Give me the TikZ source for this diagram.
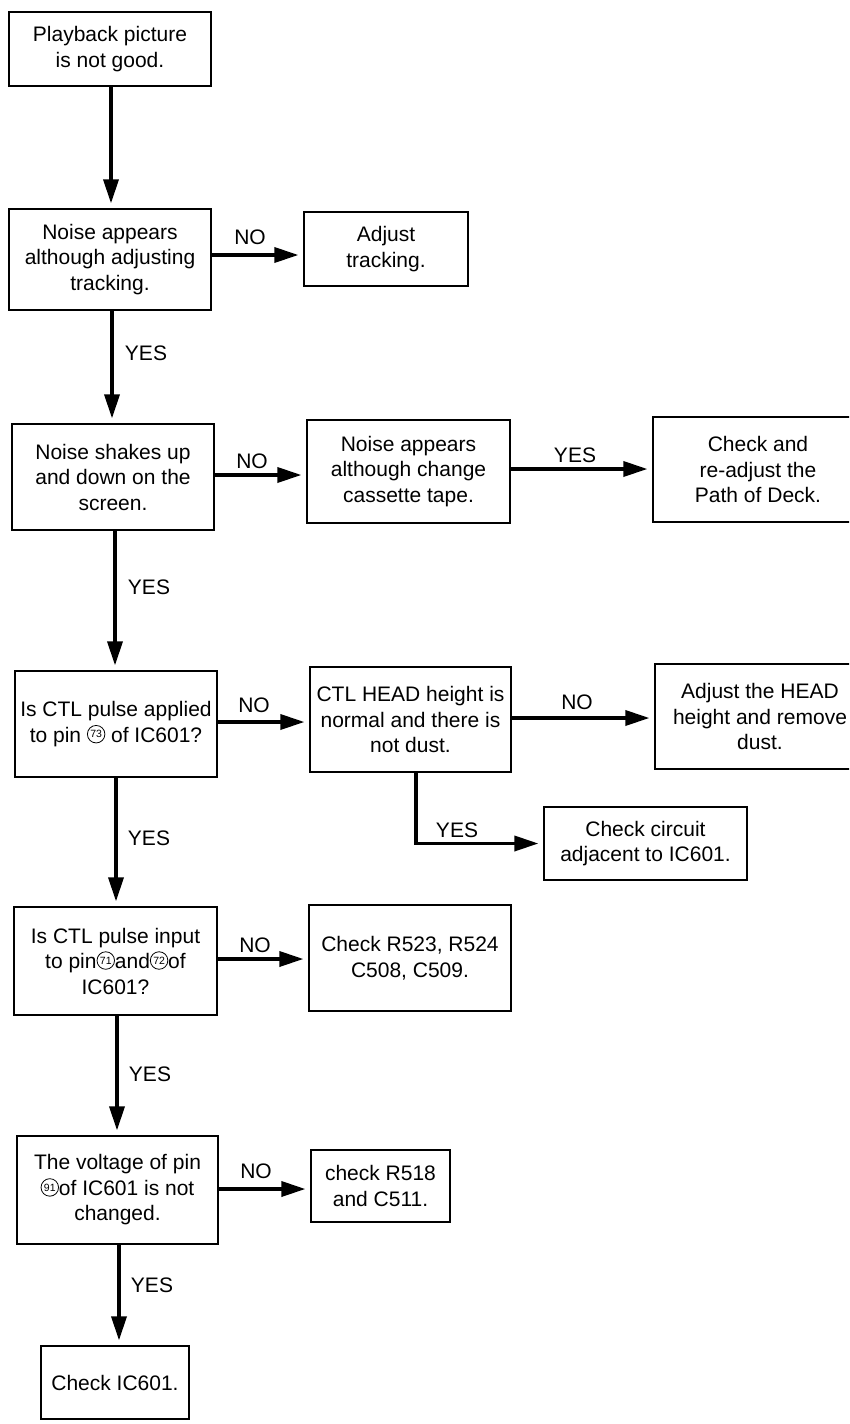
\documentclass[tikz,border=0pt]{standalone}
\usepackage{fontspec}
\setmainfont{Liberation Sans}
\usetikzlibrary{arrows.meta,calc}
\newcommand{\cnum}[1]{\tikz[baseline={([yshift=-8pt]cn.center)}]\node[circle,draw,line width=0.8pt,inner sep=0pt,minimum size=17.5pt,font=\fontsize{10.5}{10.5}\selectfont](cn){#1};}
\begin{document}
\begin{tikzpicture}[x=1pt,y=-1pt,
  box/.style={draw,line width=1.2pt,align=center,inner sep=0pt,font=\fontsize{21}{25.5}\selectfont},
  arr/.style={line width=3.5pt,-{Triangle[length=24pt,width=15pt]},shorten >=5pt},
  lbl/.style={font=\fontsize{21}{25}\selectfont,inner sep=0pt}]
\useasboundingbox (0,0) rectangle (849,1424);
\clip (0,0) rectangle (849,1424);
\fill[white] (0,0) rectangle (849,1424);

\node[box,minimum width=202pt,minimum height=74pt] (b1) at (110,49) {Playback picture\\is not good.};
\node[box,minimum width=202pt,minimum height=101pt] (b2) at (110,259.5) {Noise appears\\although adjusting\\tracking.};
\node[box,minimum width=164pt,minimum height=74pt] (b2n) at (386,249) {Adjust\\tracking.};
\node[box,minimum width=202pt,minimum height=106pt] (b3) at (113,477) {Noise shakes up\\and down on the\\screen.};
\node[box,minimum width=203pt,minimum height=103pt] (b3n) at (408.5,471.5) {Noise appears\\although change\\cassette tape.};
\node[box,minimum width=210pt,minimum height=105pt] (b3y) at (758,469.5) {Check and\\re-adjust the\\Path of Deck.};
\node[box,minimum width=202pt,minimum height=106pt] (b4) at (116,724) {Is CTL pulse applied\\to pin \cnum{73} of IC601?};
\node[box,minimum width=201pt,minimum height=105pt] (b5) at (410.5,719.5) {CTL HEAD height is\\normal and there is\\not dust.};
\node[box,minimum width=210pt,minimum height=105pt] (b6) at (760,716.5) {Adjust the HEAD\\height and remove\\dust.};
\node[box,minimum width=203pt,minimum height=73pt] (b7) at (645.5,843.5) {Check circuit\\adjacent to IC601.};
\node[box,minimum width=203pt,minimum height=108pt] (b8) at (115.5,961) {Is CTL pulse input\\to pin\cnum{71}and\cnum{72}of\\IC601?};
\node[box,minimum width=202pt,minimum height=106pt] (b9) at (410,958) {Check R523, R524\\C508, C509.};
\node[box,minimum width=201pt,minimum height=108pt] (b10) at (117.5,1190) {The voltage of pin\\\cnum{91}of IC601 is not\\changed.};
\node[box,minimum width=139pt,minimum height=72pt] (b11) at (380.5,1186) {check R518\\and C511.};
\node[box,minimum width=148pt,minimum height=73pt] (b12) at (115,1382.5) {Check IC601.};

% vertical main flow
\draw[arr] ([xshift=1pt]b1.south) -- ([xshift=1pt]b1.south |- b2.north);
\draw[arr] ([xshift=2pt]b2.south) -- ([xshift=2pt]b2.south |- b3.north);
\draw[arr] ([xshift=2pt]b3.south) -- ([xshift=2pt]b3.south |- b4.north);
\draw[arr] (b4.south) -- (b4.south |- b8.north);
\draw[arr] ([xshift=1.5pt]b8.south) -- ([xshift=1.5pt]b8.south |- b10.north);
\draw[arr] ([xshift=1.5pt]b10.south) -- ([xshift=1.5pt]b10.south |- b12.north);

% horizontal branches
\draw[arr] (b2.east |- 0,255) -- (b2n.west |- 0,255);
\draw[arr] (b3.east |- 0,475) -- (b3n.west |- 0,475);
\draw[arr] (b3n.east |- 0,469) -- (b3y.west |- 0,469);
\draw[arr] (b4.east |- 0,722) -- (b5.west |- 0,722);
\draw[arr] (b5.east |- 0,718) -- (b6.west |- 0,718);
\draw[arr] ([xshift=5.5pt]b5.south) |- (b7.west);
\draw[arr] (b8.east |- 0,959) -- (b9.west |- 0,959);
\draw[arr] (b10.east |- 0,1189) -- (b11.west |- 0,1189);

% labels
\node[lbl] (n1) at (250,237) {NO};
\node[lbl] (y1) at (146,353) {YES};
\node[lbl] (n2) at (252,461) {NO};
\node[lbl] (y2) at (575,455) {YES};
\node[lbl] (y3) at (149,587) {YES};
\node[lbl] (n3) at (254,705) {NO};
\node[lbl] (n4) at (577,702) {NO};
\node[lbl] (y4) at (457,830) {YES};
\node[lbl] (y5) at (149,838) {YES};
\node[lbl] (n5) at (255,945) {NO};
\node[lbl] (y6) at (150,1074) {YES};
\node[lbl] (n6) at (256,1171) {NO};
\node[lbl] (y7) at (152,1285) {YES};
\end{tikzpicture}
\end{document}
